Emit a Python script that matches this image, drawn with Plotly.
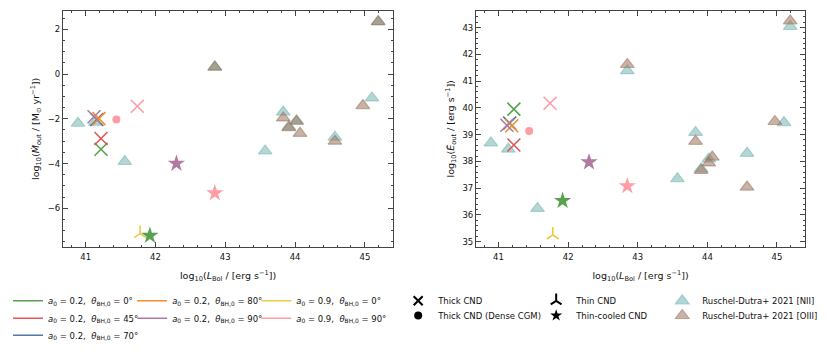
import plotly.graph_objects as go

# simulation runs: colour key, marker type, L_bol, Mdot_out, Edot_out
sim_run = ["a02_t0", "a02_t45", "a02_t70", "a02_t80", "a02_t90", "a09_t90",
           "a09_t90", "a09_t0", "a02_t0", "a02_t90", "a09_t90"]
sim_kind = ["thick", "thick", "thick", "thick", "thick", "thick",
            "dense", "thin", "cooled", "cooled", "cooled"]
sim_lbol = [41.22, 41.22, 41.16, 41.19, 41.12, 41.74, 41.44, 41.78, 41.92, 42.30, 42.85]
sim_mdot = [-3.36, -2.88, -2.03, -1.99, -1.91, -1.44, -2.03, -7.13, -7.22, -4.00, -5.32]
sim_edot = [39.95, 38.61, 39.43, 39.33, 39.35, 40.17, 39.13, 35.25, 36.53, 37.97, 37.08]

# Ruschel-Dutra+ 2021
nii_lbol = [40.89, 41.14, 41.56, 42.85, 43.57, 43.83, 43.91, 44.02, 44.57, 45.10, 45.19]
nii_mdot = [-2.20, -2.15, -3.91, 0.31, -3.44, -1.70, -2.36, -2.10, -2.82, -1.07, 2.34]
nii_edot = [38.69, 38.46, 36.24, 41.39, 37.35, 39.08, 37.72, 38.09, 38.30, 39.45, 43.04]

oiii_lbol = [42.85, 43.83, 43.91, 44.02, 44.07, 44.57, 44.97, 45.19]
oiii_mdot = [0.31, -1.96, -2.40, -2.11, -2.65, -3.00, -1.41, 2.34]
oiii_edot = [41.62, 38.75, 37.66, 37.94, 38.16, 37.04, 39.49, 43.25]

run_labels = {
    "a02_t0": ("#59a14f", "0.2", "0"),
    "a02_t45": ("#e15759", "0.2", "45"),
    "a02_t70": ("#4e79a7", "0.2", "70"),
    "a02_t80": ("#f28e2b", "0.2", "80"),
    "a02_t90": ("#b07aa1", "0.2", "90"),
    "a09_t0": ("#edc948", "0.9", "0"),
    "a09_t90": ("#ff9da7", "0.9", "90"),
}
kinds = {
    "thick": ("Thick CND", "x-thin", 13),
    "dense": ("Thick CND (Dense CGM)", "circle", 8),
    "thin": ("Thin CND", "y-up", 10),
    "cooled": ("Thin-cooled CND", "star", 13),
}

# page is drawn with an 8px body margin, so the figure is shrunk by that much
OFF = 8
W, H = 830 - OFF, 354 - OFF
def px(x): return (x - OFF) / W
def py(y): return 1 - (y - OFF) / H

fig = go.Figure()

def obs(x, y, col, xa, ya):
    fig.add_trace(go.Scatter(x=x, y=y, mode="markers", xaxis=xa, yaxis=ya, showlegend=False,
                             marker=dict(symbol="triangle-up", size=12, color=col,
                                         line=dict(color=col, width=1.2))))

teal = "rgba(118,183,178,0.55)"
brown = "rgba(156,117,95,0.55)"
for xa, ya, nii_y, oiii_y in [("x", "y", nii_mdot, oiii_mdot), ("x2", "y2", nii_edot, oiii_edot)]:
    obs(nii_lbol, nii_y, teal, xa, ya)
    obs(oiii_lbol, oiii_y, brown, xa, ya)

for i in range(len(sim_run)):
    col = run_labels[sim_run[i]][0]
    name, sym, size = kinds[sim_kind[i]]
    if sym in ("x-thin", "y-up"):
        mk = dict(symbol=sym, size=size, color=col, line=dict(color=col, width=1.6))
    else:
        mk = dict(symbol=sym, size=size, color=col, line=dict(width=0))
    fig.add_trace(go.Scatter(x=[sim_lbol[i]], y=[sim_mdot[i]], mode="markers", marker=mk,
                             xaxis="x", yaxis="y", showlegend=False))
    fig.add_trace(go.Scatter(x=[sim_lbol[i]], y=[sim_edot[i]], mode="markers", marker=mk,
                             xaxis="x2", yaxis="y2", showlegend=False))

# one small legend per entry so the columns sit where the reference has them
leg_font = dict(family="DejaVu Sans", size=8.5, color="#111")
legends = {}
count = [0]
def add_legend(trace, text_x, row_y, sym_off=40):
    count[0] += 1
    lname = "legend" if count[0] == 1 else "legend%d" % count[0]
    trace.legend = lname
    fig.add_trace(trace)
    legends[lname] = dict(x=px(text_x - sym_off), y=py(row_y - 13), xanchor="left", yanchor="top",
                          font=leg_font, bgcolor="rgba(0,0,0,0)")

line_cols = [["a02_t0", "a02_t45", "a02_t70"], ["a02_t80", "a02_t90"], ["a09_t0", "a09_t90"]]
line_x = [42, 167, 292]
line_rows = [299.3, 316.7, 333.7]
for c, keys in enumerate(line_cols):
    for r, k in enumerate(keys):
        col, a0, th = run_labels[k]
        tr = go.Scatter(x=[None], y=[None], mode="lines", line=dict(color=col, width=1.5),
                        name="<i>a</i><sub>0</sub> = %s,  <i>θ</i><sub>BH,0</sub> = %s°" % (a0, th))
        add_legend(tr, line_x[c], line_rows[r])

marker_cols = [["thick", "dense"], ["thin", "cooled"], ["nii", "oiii"]]
marker_x = [437, 576, 703]
marker_rows = [299.3, 314]
for c, keys in enumerate(marker_cols):
    for r, k in enumerate(keys):
        if k == "nii":
            mk = dict(symbol="triangle-up", size=12, color=teal, line=dict(color=teal, width=1.2))
            name = "Ruschel-Dutra+ 2021 [NII]"
        elif k == "oiii":
            mk = dict(symbol="triangle-up", size=12, color=brown, line=dict(color=brown, width=1.2))
            name = "Ruschel-Dutra+ 2021 [OIII]"
        else:
            name, sym, size = kinds[k]
            lw = 2 if sym in ("x-thin", "y-up") else 0
            mk = dict(symbol=sym, size=min(size, 9), color="black", line=dict(color="black", width=lw))
        tr = go.Scatter(x=[None], y=[None], mode="markers", marker=mk, name=name)
        add_legend(tr, marker_x[c], marker_rows[r], sym_off=42)

axcol = "#444"
def axis(**kw):
    d = dict(showline=True, linecolor=axcol, linewidth=1, mirror="allticks", ticks="inside",
             ticklen=5, tickwidth=1, tickcolor=axcol, showgrid=False, zeroline=False,
             tickfont=dict(family="DejaVu Sans", size=8.5, color="#111"),
             title_font=dict(family="DejaVu Sans", size=9.5, color="#111"))
    d.update(kw)
    return d

xtitle = "log<sub>10</sub>(<i>L</i><sub>Bol</sub> / [erg s<sup>−1</sup>])"
fig.update_layout(
    width=W, height=H, margin=dict(l=0, r=0, t=0, b=0),
    plot_bgcolor="white", paper_bgcolor="white",
    font=dict(family="DejaVu Sans"),
    xaxis=axis(domain=[px(57.3), px(390)], range=[40.675, 45.405], dtick=1, anchor="y",
               ticklabelstandoff=2,
               minor=dict(dtick=0.2, ticks="inside", ticklen=2.5, tickcolor=axcol),
               title=dict(text=xtitle, standoff=11)),
    yaxis=axis(domain=[py(247), py(10.7)], range=[-7.73, 2.83], dtick=2, anchor="x",
               minor=dict(dtick=0.5, ticks="inside", ticklen=2.5, tickcolor=axcol),
               title=dict(text="log<sub>10</sub>(<i>Ṁ</i><sub>out</sub> / [M<sub>⊙</sub> yr<sup>−1</sup>])", standoff=6)),
    xaxis2=axis(domain=[px(473.3), px(805)], range=[40.675, 45.405], dtick=1, anchor="y2",
                ticklabelstandoff=2,
                minor=dict(dtick=0.2, ticks="inside", ticklen=2.5, tickcolor=axcol),
                title=dict(text=xtitle, standoff=11)),
    yaxis2=axis(domain=[py(247), py(10.7)], range=[34.8, 43.63], dtick=1, anchor="x2",
                minor=dict(dtick=0.2, ticks="inside", ticklen=2.5, tickcolor=axcol),
                title=dict(text="log<sub>10</sub>(<i>Ė</i><sub>out</sub> / [erg s<sup>−1</sup>])", standoff=6)),
    **legends,
)

fig.write_html("out.html")
